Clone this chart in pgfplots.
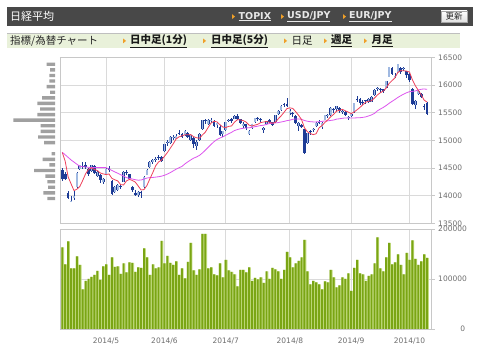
\documentclass[border=0pt]{standalone}
\usepackage{fontspec}
\setmainfont{DejaVu Sans}
\newfontfamily\dv{DejaVu Sans}
\newfontfamily\cjk{Noto Sans CJK JP}
\usepackage{pgfplots}
\usepackage{pgfplotstable}
\pgfplotsset{compat=1.18}
\definecolor{navyc}{RGB}{30,60,150}
\definecolor{lightc}{RGB}{160,185,225}
\definecolor{mared}{RGB}{238,64,90}
\definecolor{mamag}{RGB}{221,85,238}
\definecolor{gridc}{RGB}{218,218,218}
\definecolor{framec}{RGB}{200,200,200}
\definecolor{volg}{RGB}{122,165,20}
\definecolor{volgl}{RGB}{196,220,130}
\definecolor{histc}{RGB}{160,160,160}
\definecolor{labelc}{RGB}{110,110,110}
\definecolor{headbg}{RGB}{72,72,72}
\definecolor{subbg}{RGB}{233,241,218}
\definecolor{orangec}{RGB}{240,160,40}
\definecolor{linkc}{RGB}{232,232,232}

\pgfplotstableread{
i O H L C
0 14470 14500 14260 14299
1 14390 14420 14280 14300
2 14050 14080 13940 13960
3 13900 13990 13885 13910
4 13950 14080 13920 13996
5 14150 14420 14140 14417
6 14480 14560 14460 14547
7 14540 14600 14480 14516
8 14560 14600 14480 14512
9 14480 14500 14360 14388
10 14440 14560 14430 14546
11 14530 14560 14390 14404
12 14360 14450 14340 14429
13 14380 14400 14230 14288
14 14240 14320 14210 14304
15 14400 14500 14390 14485
16 14500 14530 14430 14457
17 14260 14280 14010 14033
18 14060 14170 14040 14163
19 14110 14210 14080 14199
20 14180 14210 14120 14149
21 14250 14440 14240 14425
22 14430 14460 14380 14405
23 14390 14400 14280 14298
24 14150 14170 14060 14096
25 14050 14100 13990 14006
26 14020 14090 13980 14075
27 14070 14090 13960 14042
28 14150 14350 14140 14337
29 14380 14480 14370 14462
30 14520 14620 14500 14602
31 14610 14660 14580 14636
32 14640 14700 14610 14670
33 14700 14730 14640 14681
34 14700 14720 14600 14632
35 14800 14940 14790 14935
36 14950 15000 14900 14976
37 14960 15080 14940 15068
38 15040 15100 15010 15069
39 15030 15110 15020 15077
40 15130 15190 15100 15124
41 15110 15140 15050 15069
42 15100 15180 15080 15162
43 15130 15150 15050 15069
44 15000 15120 14980 15097
45 15040 15060 14870 14933
46 14900 15000 14830 14975
47 15000 15130 14990 15115
48 15200 15370 15190 15361
49 15360 15390 15300 15349
50 15300 15380 15280 15369
51 15350 15400 15320 15376
52 15330 15360 15250 15266
53 15280 15330 15230 15308
54 15250 15270 15080 15095
55 15110 15170 15060 15162
56 15180 15340 15170 15326
57 15360 15390 15330 15369
58 15380 15400 15310 15348
59 15390 15460 15380 15437
60 15440 15470 15360 15379
61 15380 15390 15290 15314
62 15250 15330 15230 15302
63 15290 15300 15190 15216
64 15120 15180 15100 15164
65 15220 15300 15210 15297
66 15330 15400 15320 15395
67 15400 15420 15350 15379
68 15390 15400 15330 15370
69 15180 15250 15130 15215
70 15300 15350 15280 15343
71 15360 15380 15310 15328
72 15330 15340 15260 15284
73 15330 15460 15320 15457
74 15480 15540 15460 15529
75 15540 15630 15530 15618
76 15660 15680 15600 15646
77 15650 15760 15600 15620
78 15500 15560 15460 15523
79 15500 15510 15420 15474
80 15440 15460 15290 15320
81 15250 15340 15160 15319
82 15280 15300 15220 15232
83 15200 15210 14750 14778
84 14960 15140 14940 15130
85 15170 15190 15100 15161
86 15180 15220 15150 15213
87 15260 15330 15250 15314
88 15340 15360 15300 15318
89 15240 15340 15200 15322
90 15370 15460 15360 15449
91 15440 15470 15410 15454
92 15450 15600 15440 15586
93 15560 15580 15500 15539
94 15560 15620 15530 15613
95 15580 15600 15500 15521
96 15520 15560 15480 15534
97 15510 15530 15440 15459
98 15400 15440 15360 15424
99 15440 15490 15420 15476
100 15510 15680 15500 15668
101 15740 15800 15700 15728
102 15740 15760 15640 15676
103 15700 15730 15640 15668
104 15720 15730 15660 15705
105 15700 15760 15680 15749
106 15700 15800 15690 15788
107 15810 15920 15800 15909
108 15930 15960 15890 15948
109 15930 15950 15860 15911
110 15920 15930 15860 15888
111 15950 16080 15940 16067
112 16150 16330 16140 16321
113 16300 16320 16180 16205
114 16160 16220 16130 16167
115 16220 16380 16210 16374
116 16300 16320 16200 16229
117 16290 16330 16250 16310
118 16250 16260 16130 16173
119 16200 16210 16060 16082
120 15930 15940 15650 15661
121 15630 15720 15560 15708
122 15830 15910 15820 15890
123 15840 15860 15760 15783
124 15620 15650 15550 15595
125 15680 15700 15450 15478
}\candles

\pgfplotstableread{
i V
0 163000
1 129000
2 175000
3 121000
4 121000
5 145000
6 128000
7 79000
8 96000
9 100000
10 104000
11 108000
12 116000
13 98000
14 125000
15 129000
16 108000
17 143000
18 124000
19 125000
20 110000
21 131000
22 113000
23 133000
24 132000
25 114000
26 123000
27 122000
28 161000
29 143000
30 108000
31 129000
32 121000
33 123000
34 176000
35 131000
36 146000
37 132000
38 128000
39 135000
40 108000
41 121000
42 101000
43 134000
44 172000
45 117000
46 108000
47 119000
48 190000
49 190000
50 121000
51 123000
52 109000
53 107000
54 131000
55 103000
56 138000
57 117000
58 114000
59 109000
60 85000
61 118000
62 118000
63 113000
64 123000
65 96000
66 102000
67 99000
68 103000
69 92000
70 115000
71 100000
72 122000
73 119000
74 115000
75 100000
76 118000
77 154000
78 143000
79 123000
80 131000
81 136000
82 143000
83 178000
84 115000
85 89000
86 96000
87 93000
88 89000
89 79000
90 95000
91 93000
92 118000
93 103000
94 83000
95 87000
96 103000
97 100000
98 111000
99 76000
100 122000
101 138000
102 111000
103 109000
104 96000
105 106000
106 109000
107 131000
108 183000
109 121000
110 115000
111 143000
112 172000
113 129000
114 133000
115 149000
116 128000
117 109000
118 152000
119 138000
120 177000
121 140000
122 128000
123 135000
124 149000
125 142000
}\vol

\pgfplotstableread{
i v
0 14780
1 14620
2 14339
3 14215
4 14093
5 14117
6 14166
7 14277
8 14398
9 14476
10 14502
11 14473
12 14456
13 14411
14 14394
15 14382
16 14393
17 14313
18 14288
19 14267
20 14200
21 14194
22 14268
23 14295
24 14275
25 14246
26 14176
27 14103
28 14111
29 14184
30 14304
31 14416
32 14541
33 14610
34 14644
35 14711
36 14779
37 14858
38 14936
39 15025
40 15063
41 15081
42 15100
43 15100
44 15104
45 15066
46 15047
47 15038
48 15096
49 15147
50 15234
51 15314
52 15344
53 15334
54 15283
55 15241
56 15231
57 15252
58 15260
59 15328
60 15372
61 15369
62 15356
63 15330
64 15275
65 15259
66 15275
67 15290
68 15321
69 15331
70 15340
71 15327
72 15308
73 15325
74 15388
75 15443
76 15507
77 15574
78 15587
79 15576
80 15517
81 15451
82 15374
83 15225
84 15156
85 15124
86 15103
87 15119
88 15227
89 15266
90 15323
91 15371
92 15426
93 15470
94 15528
95 15543
96 15559
97 15533
98 15510
99 15483
100 15512
101 15551
102 15594
103 15643
104 15689
105 15705
106 15717
107 15764
108 15820
109 15861
110 15889
111 15945
112 16027
113 16078
114 16130
115 16227
116 16259
117 16257
118 16251
119 16234
120 16091
121 15987
122 15903
123 15825
124 15727
125 15691
}\mafive

\pgfplotstableread{
i v
0 14784
3 14646
6 14530
10 14507
15 14507
19 14405
22 14327
24 14301
25 14289
26 14280
27 14284
28 14301
29 14319
30 14327
31 14330
32 14336
33 14343
34 14353
35 14369
36 14391
37 14417
38 14448
39 14479
40 14505
41 14529
42 14574
43 14611
44 14646
45 14678
46 14700
47 14728
48 14771
49 14821
50 14875
51 14927
52 14976
53 15015
54 15041
55 15063
56 15091
57 15119
58 15145
59 15177
60 15195
61 15209
62 15218
63 15224
64 15227
65 15234
66 15247
67 15256
68 15268
69 15273
70 15289
71 15303
72 15310
73 15314
74 15321
75 15331
76 15342
77 15356
78 15365
79 15380
80 15386
81 15386
82 15380
83 15358
84 15345
85 15337
86 15333
87 15333
88 15337
89 15343
90 15349
91 15352
92 15360
93 15367
94 15383
95 15390
96 15398
97 15405
98 15404
99 15402
100 15404
101 15407
102 15409
103 15415
104 15424
105 15441
106 15460
107 15487
108 15534
109 15565
110 15594
111 15629
112 15669
113 15704
114 15738
115 15775
116 15806
117 15835
118 15860
119 15879
120 15885
121 15892
122 15909
123 15923
124 15928
125 15921
}\matwentyfive

\pgfplotstableread{
p len
16374 8.3
16273 5.0
16172 5.7
16071 5.7
15970 8.3
15869 5.0
15768 13.0
15667 17.7
15566 15.0
15465 17.7
15364 41.7
15263 14.3
15162 14.3
15061 17.0
14960 11.0
14758 3.3
14657 12.3
14556 5.7
14455 21.0
14354 9.7
14253 7.7
14152 7.0
14051 11.7
13950 7.7
}\hist

\pgfplotsset{
  chartbase/.style={
    scale only axis, width=371.7pt,
    xmin=-0.79, xmax=126.6,
    axis line style={draw=framec, line width=0.8pt},
    xtick={15,35,56,78,99,119},
    xmajorgrids, ymajorgrids,
    grid style={draw=gridc, line width=0.8pt},
    ytick pos=right, yticklabel pos=right,
    tick align=outside, major tick length=3pt,
    y tick style={draw=framec, line width=0.6pt},
    x tick style={draw=none},
    tick label style={font=\dv\fontsize{7.5}{9}\selectfont, text=labelc},
    /pgf/number format/assume math mode=true,
    scaled y ticks=false,
  },
  candlebar/.style={draw=none, mark=none, forget plot,
    error bars/.cd, y dir=both, y explicit, error mark=none,
    error bar style={draw=#1}},
}

\begin{document}
\begin{tikzpicture}[x=1pt,y=1pt]
\useasboundingbox (0,0) rectangle (480,355);
\fill[white] (0,0) rectangle (480,355);

% header bar
\fill[headbg] (7,329) rectangle (473,348.3);
\node[anchor=west, inner sep=0, text=white, font=\cjk\fontsize{11}{11}\selectfont] at (10,338.6) {日経平均};
\foreach \tx in {232,281,343}{\fill[orangec] (\tx,335.9) -- (\tx+3,338.4) -- (\tx,340.9) -- cycle;}
\node[anchor=west, inner sep=0, text=linkc, font=\dv\bfseries\fontsize{9.5}{10}\selectfont] at (238.5,338.4) {\underline{TOPIX}};
\node[anchor=west, inner sep=0, text=linkc, font=\dv\bfseries\fontsize{9.5}{10}\selectfont] at (287,338.4) {\underline{USD/JPY}};
\node[anchor=west, inner sep=0, text=linkc, font=\dv\bfseries\fontsize{9.5}{10}\selectfont] at (349,338.4) {\underline{EUR/JPY}};
\shade[top color=white, bottom color=black!12, draw=black!35, line width=0.5pt] (441,333) rectangle (467,344);
\node[inner sep=0, text=black!85, font=\cjk\fontsize{8.5}{9}\selectfont] at (454,338.5) {更新};

% sub bar
\fill[subbg] (7,306.7) rectangle (460,321.7);
\draw[black!25, line width=0.8pt] (7,321.7) -- (460,321.7);
\node[anchor=west, inner sep=0, text=black!85, font=\cjk\fontsize{10.5}{11}\selectfont] at (10,314) {指標/為替チャート};
\foreach \tx in {123,203,284,324,364}{\fill[orangec] (\tx,311.6) -- (\tx+3,314.1) -- (\tx,316.6) -- cycle;}
\node[anchor=west, inner sep=0, text=black!90, font=\cjk\bfseries\fontsize{10.5}{11}\selectfont] at (130,314) {\underline{日中足(1分)}};
\node[anchor=west, inner sep=0, text=black!90, font=\cjk\bfseries\fontsize{10.5}{11}\selectfont] at (211,314) {\underline{日中足(5分)}};
\node[anchor=west, inner sep=0, text=black!90, font=\cjk\fontsize{10.5}{11}\selectfont] at (291.5,314) {日足};
\node[anchor=west, inner sep=0, text=black!90, font=\cjk\bfseries\fontsize{10.5}{11}\selectfont] at (331,314) {\underline{週足}};
\node[anchor=west, inner sep=0, text=black!90, font=\cjk\bfseries\fontsize{10.5}{11}\selectfont] at (371.5,314) {\underline{月足}};

% volume-by-price histogram
\begin{axis}[at={(0pt,131.6pt)}, anchor=south west, scale only axis,
  width=55pt, height=166.1pt, xmin=0, xmax=55, x dir=reverse,
  ymin=13500, ymax=16500, hide axis, clip=false]
\addplot[xbar, bar width=3.4pt, bar shift=0pt, fill=histc, draw=none] table[x=len, y=p] {\hist};
\end{axis}

% price panel
\begin{axis}[chartbase, at={(60pt,131.6pt)}, anchor=south west,
  height=166.1pt, ymin=13500, ymax=16500,
  xticklabels={},
  ytick={13500,14000,14500,15000,15500,16000,16500},
  yticklabels={13500,14000,14500,15000,15500,16000,16500}]
\addplot[candlebar={navyc, line width=0.7pt}]
  table[x=i, y=C, y error plus expr={\thisrow{H}-\thisrow{C}}, y error minus expr={\thisrow{C}-\thisrow{L}}] {\candles};
\addplot[candlebar={navyc, line width=2.7pt}]
  table[x=i, y=C, y error plus expr={max(\thisrow{O}-\thisrow{C},0)}, y error minus expr={max(\thisrow{C}-\thisrow{O},0)}] {\candles};
\addplot[candlebar={lightc, line width=1.6pt}]
  table[x=i, y=C, y error plus expr={0}, y error minus expr={max(\thisrow{C}-\thisrow{O},0)}] {\candles};
\addplot[mamag, line width=0.8pt] table[x=i, y=v] {\matwentyfive};
\addplot[mared, line width=0.8pt] table[x=i, y=v] {\mafive};
\end{axis}

% volume panel
\begin{axis}[chartbase, at={(60pt,26pt)}, anchor=south west,
  height=100pt, ymin=0, ymax=200000,
  xticklabels={2014/5,2014/6,2014/7,2014/8,2014/9,2014/10},
  xticklabel style={yshift=-2pt},
  ytick={0,100000,200000}, yticklabels={0,100000,200000},
  yticklabel style={text width=27pt, align=right}]
\addplot[ybar, bar width=2.8pt, bar shift=0.4pt, fill=volgl, draw=none] table[x=i, y=V] {\vol};
\addplot[ybar, bar width=1.9pt, bar shift=-0.05pt, fill=volg, draw=none] table[x=i, y=V] {\vol};
\end{axis}
\end{tikzpicture}
\end{document}
